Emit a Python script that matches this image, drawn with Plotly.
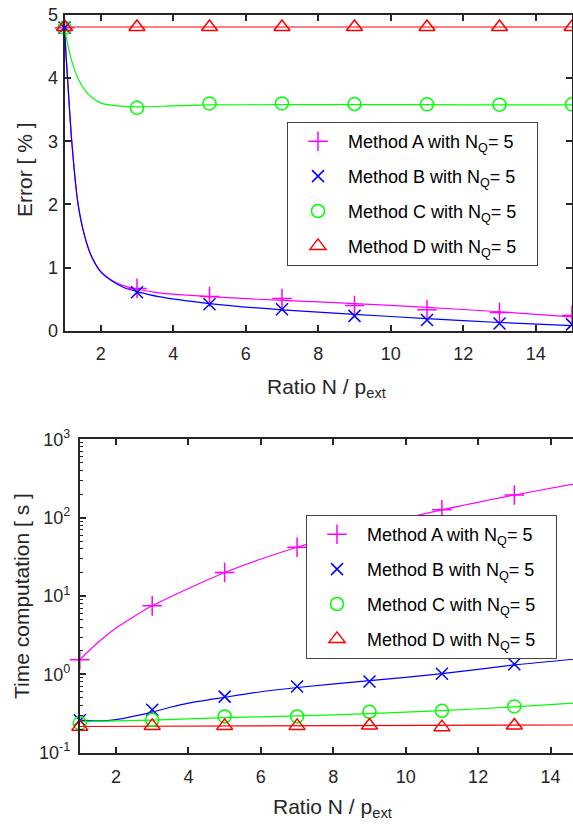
import plotly.graph_objects as go

# ---------------- data: top chart (Error [%]) ----------------
x_markers = [1, 3, 5, 7, 9, 11, 13, 15]
err_A = [4.80, 0.67, 0.54, 0.51, 0.40, 0.33, 0.29, 0.24]
err_B = [4.80, 0.61, 0.42, 0.34, 0.235, 0.17, 0.115, 0.10]
err_C = [4.80, 3.53, 3.60, 3.60, 3.59, 3.585, 3.58, 3.585]
err_D = [4.81, 4.81, 4.81, 4.81, 4.81, 4.81, 4.81, 4.81]

# fitted curves
curve_x_AB = [1, 1.05, 1.1, 1.2, 1.37, 1.56, 1.75, 2.0, 2.3, 2.65, 3, 3.6, 5, 7, 9, 11, 13, 15]
curve_err_A = [4.80, 4.30, 3.85, 3.00, 2.02, 1.49, 1.17, 0.94, 0.80, 0.71, 0.66, 0.60, 0.54, 0.48, 0.43, 0.37, 0.30, 0.22]
curve_err_B = [4.80, 4.30, 3.85, 3.00, 2.02, 1.49, 1.17, 0.93, 0.79, 0.68, 0.62, 0.54, 0.43, 0.33, 0.26, 0.19, 0.13, 0.08]
curve_x_C = [1, 1.1, 1.19, 1.37, 1.56, 1.74, 2.02, 2.48, 3, 4, 5, 7, 9, 11, 13, 15]
curve_err_C = [4.80, 4.50, 4.29, 4.00, 3.81, 3.70, 3.60, 3.56, 3.545, 3.56, 3.575, 3.58, 3.58, 3.58, 3.575, 3.575]
curve_x_D = [1, 15]
curve_err_D = [4.81, 4.81]

# ---------------- data: bottom chart (Time [s]) ----------------
time_A = [1.54, 7.5, 20.0, 42.0, 76.0, 126.0, 195.0, 290.0]
time_B = [0.26, 0.353, 0.52, 0.70, 0.81, 1.02, 1.35, 1.62]
time_C = [0.239, 0.263, 0.290, 0.290, 0.333, 0.343, 0.390, 0.44]
time_D = [0.215, 0.22, 0.22, 0.22, 0.222, 0.212, 0.222, 0.225]

curve_x_tA = [1, 1.5, 2, 2.5, 3, 5, 7, 9, 11, 13, 15]
curve_time_A = [1.54, 2.55, 3.9, 5.5, 7.5, 20.0, 42.0, 76.0, 126.0, 195.0, 290.0]
curve_x_tB = [1, 1.5, 2, 3, 3.5, 4, 5, 6, 7, 9, 11, 13, 15]
curve_time_B = [0.26, 0.255, 0.265, 0.33, 0.38, 0.43, 0.51, 0.60, 0.68, 0.83, 1.02, 1.32, 1.62]
curve_x_tC = [1, 3, 5, 7, 9, 11, 13, 15]
curve_time_C = [0.25, 0.26, 0.28, 0.295, 0.315, 0.345, 0.385, 0.44]
curve_x_tD = [1, 15]
curve_time_D = [0.216, 0.226]

PAD = "\u00a0\u00a0\u00a0"
names = ["Method A with N<sub>Q</sub>= 5" + PAD, "Method B with N<sub>Q</sub>= 5" + PAD,
         "Method C with N<sub>Q</sub>= 5" + PAD, "Method D with N<sub>Q</sub>= 5" + PAD]
colors = ["#ff00ff", "#0000ff", "#00ff00", "#ff0000"]
symbols = ["cross-thin", "x-thin", "circle-open", "triangle-up-open"]
sizes = [14, 12, 13, 14]

FONT = "Liberation Sans, Arial, sans-serif"
TXT = "#262626"
W, H = 573, 828

fig = go.Figure()

top_curves = [(curve_x_AB, curve_err_A), (curve_x_AB, curve_err_B),
              (curve_x_C, curve_err_C), (curve_x_D, curve_err_D)]
top_marks = [err_A, err_B, err_C, err_D]
bot_curves = [(curve_x_tA, curve_time_A), (curve_x_tB, curve_time_B),
              (curve_x_tC, curve_time_C), (curve_x_tD, curve_time_D)]
bot_marks = [time_A, time_B, time_C, time_D]

for i in range(4):
    cx, cy = top_curves[i]
    fig.add_trace(go.Scatter(x=cx, y=cy, mode="lines", xaxis="x", yaxis="y",
                             line=dict(color=colors[i], width=1.2, shape="spline", smoothing=0.7),
                             showlegend=False, hoverinfo="skip"))
for i in range(4):
    cx, cy = bot_curves[i]
    fig.add_trace(go.Scatter(x=cx, y=cy, mode="lines", xaxis="x2", yaxis="y2",
                             line=dict(color=colors[i], width=1.2, shape="spline", smoothing=0.7),
                             showlegend=False, hoverinfo="skip"))
for i in range(4):
    fig.add_trace(go.Scatter(x=x_markers, y=top_marks[i], mode="markers", name=names[i],
                             xaxis="x", yaxis="y", legend="legend", legendgroup="t%d" % i,
                             cliponaxis=False,
                             marker=dict(symbol=symbols[i], size=sizes[i], color=colors[i],
                                         line=dict(color=colors[i], width=1.5))))
for i in range(4):
    fig.add_trace(go.Scatter(x=x_markers, y=bot_marks[i], mode="markers", name=names[i],
                             xaxis="x2", yaxis="y2", legend="legend2", legendgroup="b%d" % i,
                             cliponaxis=False,
                             marker=dict(symbol=symbols[i], size=sizes[i], color=colors[i],
                                         line=dict(color=colors[i], width=1.5))))

def px_x(p):
    return p / W

def px_y(p):
    return 1 - p / H

axis_common = dict(showgrid=False, zeroline=False, showline=True, linecolor=TXT, linewidth=2,
                   ticks="inside", tickcolor=TXT, tickwidth=1.5, ticklen=6, automargin=False,
                   tickfont=dict(family=FONT, size=18, color=TXT))

minor_vals = [m * 10 ** k for k in (-1, 0, 1, 2) for m in range(2, 10)]

legend_common = dict(xanchor="left", yanchor="top", bgcolor="white",
                     bordercolor="#444444", borderwidth=1, traceorder="grouped",
                     tracegroupgap=8.5, itemwidth=50,
                     font=dict(family=FONT, size=18, color="#000000"))

fig.update_layout(
    template="plotly_white",
    width=W, height=H, margin=dict(l=0, r=0, t=0, b=0, pad=0), autosize=False,
    paper_bgcolor="white", plot_bgcolor="white",
    font=dict(family=FONT, color=TXT),
    xaxis=dict(domain=[px_x(64.5), px_x(572)], range=[1, 15], tick0=0, dtick=2,
               anchor="y", mirror="ticks", ticklabelstandoff=6, **axis_common),
    yaxis=dict(domain=[px_y(330.7), px_y(15)], range=[0, 5], dtick=1,
               anchor="x", mirror="ticks", ticklabelstandoff=1, **axis_common),
    xaxis2=dict(domain=[px_x(79.8), 1.0], range=[1, 14.62], tick0=0, dtick=2,
                anchor="y2", mirror="ticks", ticklabelstandoff=7, **axis_common),
    yaxis2=dict(domain=[px_y(752.7), px_y(439.4)], type="log", range=[-1, 3],
                tickmode="array", tickvals=[0.1, 1, 10, 100, 1000],
                ticktext=["10<sup>-1</sup>", "10<sup>0</sup>", "10<sup>1</sup>",
                          "10<sup>2</sup>", "10<sup>3</sup>"],
                minor=dict(tickmode="array", tickvals=minor_vals, ticks="inside",
                           ticklen=3, tickcolor=TXT, tickwidth=1.2, showgrid=False),
                anchor="x2", mirror=False, ticklabelstandoff=4, **axis_common),
    legend=dict(x=px_x(287), y=px_y(122), **legend_common),
    legend2=dict(x=px_x(306), y=px_y(515), **legend_common),
    annotations=[
        dict(text="Error [ % ]", x=px_x(24), y=px_y(170), xref="paper", yref="paper",
             xanchor="center", yanchor="middle",
             textangle=-90, showarrow=False, font=dict(family=FONT, size=21, color=TXT)),
        dict(text="Ratio N / p<sub>ext</sub>", x=px_x(326), y=px_y(388), xref="paper", yref="paper",
             xanchor="center", yanchor="middle",
             showarrow=False, font=dict(family=FONT, size=21, color=TXT)),
        dict(text="Time computation [ s ]", x=px_x(21), y=px_y(596), xref="paper", yref="paper",
             xanchor="center", yanchor="middle",
             textangle=-90, showarrow=False, font=dict(family=FONT, size=21, color=TXT)),
        dict(text="Ratio N / p<sub>ext</sub>", x=px_x(332), y=px_y(808), xref="paper", yref="paper",
             xanchor="center", yanchor="middle",
             showarrow=False, font=dict(family=FONT, size=21, color=TXT)),
    ],
)

fig.write_html("out.html", config={"displayModeBar": False},
               post_script="document.body.style.margin='0px';document.body.style.overflow='hidden';")
